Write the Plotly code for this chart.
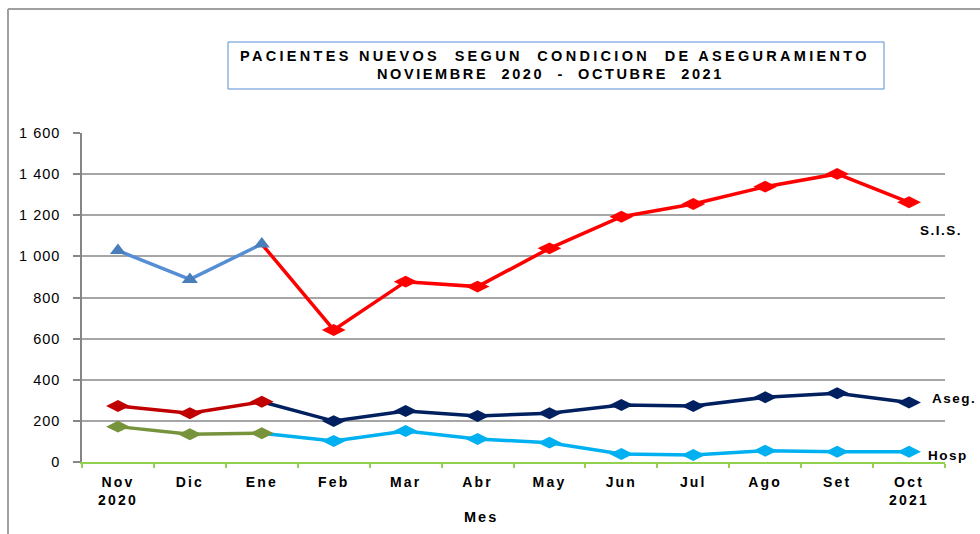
import plotly.graph_objects as go

meses = ["Nov", "Dic", "Ene", "Feb", "Mar", "Abr", "May", "Jun", "Jul", "Ago", "Set", "Oct"]
tick_line2 = ["2020", "", "", "", "", "", "", "", "", "", "", "2021"]
sis = [1028, 888, 1060, 642, 877, 853, 1039, 1193, 1255, 1339, 1401, 1263]
aseg = [272, 237, 293, 199, 248, 224, 237, 277, 272, 315, 334, 289]
hosp = [172, 135, 140, 102, 151, 112, 94, 39, 34, 55, 50, 50]
y_ticks = [0, 200, 400, 600, 800, 1000, 1200, 1400, 1600]
y_ticktext = ["0", "200", "400", "600", "800", "1 000", "1 200", "1 400", "1 600"]
split = 2  # index where colours change (Ene)

FONT = "Liberation Sans, Arial, sans-serif"
W, H = 980, 534
L, R, T, B = 82, 35, 133, 72


def px(x):
    return (x - L) / (W - L - R)


def py(y):
    return (H - B - y) / (H - T - B)


def sp(txt, ls=3.0, bold=True):
    inner = f"<b>{txt}</b>" if bold else txt
    return f"<span style='letter-spacing:{ls}px'>{inner}</span>"


fig = go.Figure()

series = [
    ("S.I.S.", sis, "#FF0000", "#558ED5", "#4A7EBB", "diamond-wide", "triangle-up"),
    ("Aseg.", aseg, "#002060", "#C00000", "#C00000", "diamond-wide", "diamond-wide"),
    ("Hosp", hosp, "#00B0F0", "#77933C", "#77933C", "diamond-wide", "diamond-wide"),
]

MS = 17
# later segment (Ene -> Oct)
for name, vals, col, ocol, omcol, sym, osym in series:
    xs = meses[split:]
    ys = vals[split:]
    sizes = [0] + [MS] * (len(xs) - 1)
    fig.add_trace(go.Scatter(
        x=xs, y=ys, mode="lines+markers", name=name,
        line=dict(color=col, width=3.5),
        marker=dict(symbol=sym, size=sizes, sizemode="diameter", color=col, opacity=1,
                    line=dict(width=0)),
        cliponaxis=False, showlegend=False, hoverinfo="x+y",
    ))

# early segment (Nov -> Ene)
for name, vals, col, ocol, omcol, sym, osym in series:
    fig.add_trace(go.Scatter(
        x=meses[:split + 1], y=vals[:split + 1], mode="lines+markers", name=name,
        line=dict(color=ocol, width=3.5),
        marker=dict(symbol=osym, size=MS if osym != "triangle-up" else 14, color=omcol, opacity=1,
                    line=dict(width=0)),
        cliponaxis=False, showlegend=False, hoverinfo="x+y",
    ))

ticktext = []
for m, l2 in zip(meses, tick_line2):
    t = sp(m, 2.2)
    if l2:
        t += "<br>" + sp(l2, 2.2)
    ticktext.append(t)

fig.update_xaxes(
    type="category", categoryorder="array", categoryarray=meses, range=[-0.5, 11.5],
    tickmode="array", tickvals=meses, ticktext=ticktext,
    tickson="boundaries", ticks="outside", ticklen=4, tickwidth=1.5, tickcolor="#92D050",
    showline=True, linecolor="#92D050", linewidth=1.5,
    showgrid=False, zeroline=False,
    tickfont=dict(family=FONT, size=14, color="#000000"),
    ticklabelstandoff=6,
)
fig.update_yaxes(
    range=[0, 1600], tickmode="array", tickvals=y_ticks,
    ticktext=[sp(t, 1.0, bold=False) for t in y_ticktext],
    ticks="outside", ticklen=7, tickwidth=1.5, tickcolor="#868686",
    showline=True, linecolor="#868686", linewidth=1.5,
    showgrid=True, gridcolor="#A6A6A6", gridwidth=1.5, zeroline=False,
    tickfont=dict(family=FONT, size=14.5, color="#000000"),
    ticklabelstandoff=10,
)

shapes = [
    # outer frame lines (top and left)
    dict(type="line", xref="paper", yref="paper", x0=px(8), x1=px(980), y0=py(9), y1=py(9),
         line=dict(color="#A0A0A0", width=2)),
    dict(type="line", xref="paper", yref="paper", x0=px(8), x1=px(8), y0=py(9), y1=py(534),
         line=dict(color="#A0A0A0", width=2)),
    # title box
    dict(type="rect", xref="paper", yref="paper", x0=px(228), x1=px(884), y0=py(42), y1=py(89),
         line=dict(color="#558ED5", width=1), fillcolor="white"),
]

annotations = [
    dict(text=sp("PACIENTES NUEVOS  SEGUN  CONDICION  DE ASEGURAMIENTO", 3.3),
         x=px(555), y=py(56), xref="paper", yref="paper", showarrow=False,
         xanchor="center", yanchor="middle", font=dict(family=FONT, size=14.5, color="#000000")),
    dict(text=sp("NOVIEMBRE  2020  -  OCTUBRE  2021", 2.6),
         x=px(550), y=py(74), xref="paper", yref="paper", showarrow=False,
         xanchor="center", yanchor="middle", font=dict(family=FONT, size=14.5, color="#000000")),
    dict(text=sp("Mes", 2.0), x=px(481), y=py(517), xref="paper", yref="paper", showarrow=False,
         xanchor="center", yanchor="middle", font=dict(family=FONT, size=14.5, color="#000000")),
    dict(text=sp("S.I.S.", 1.5), x=px(918), y=py(230), xref="paper", yref="paper", showarrow=False,
         xanchor="left", yanchor="middle", font=dict(family=FONT, size=13.5, color="#000000")),
    dict(text=sp("Aseg.", 1.5), x=px(930), y=py(398), xref="paper", yref="paper", showarrow=False,
         xanchor="left", yanchor="middle", font=dict(family=FONT, size=13.5, color="#000000")),
    dict(text=sp("Hosp", 1.5), x=px(926), y=py(455), xref="paper", yref="paper", showarrow=False,
         xanchor="left", yanchor="middle", font=dict(family=FONT, size=13.5, color="#000000")),
]

fig.update_layout(
    width=W, height=H,
    margin=dict(l=L, r=R, t=T, b=B, autoexpand=False),
    paper_bgcolor="white", plot_bgcolor="white",
    shapes=shapes, annotations=annotations,
    showlegend=False,
    font=dict(family=FONT, size=13, color="#000000"),
)

fig.write_html(
    "out.html",
    config={"displayModeBar": False},
    post_script="document.body.style.margin='0';document.body.style.overflow='hidden';",
)
